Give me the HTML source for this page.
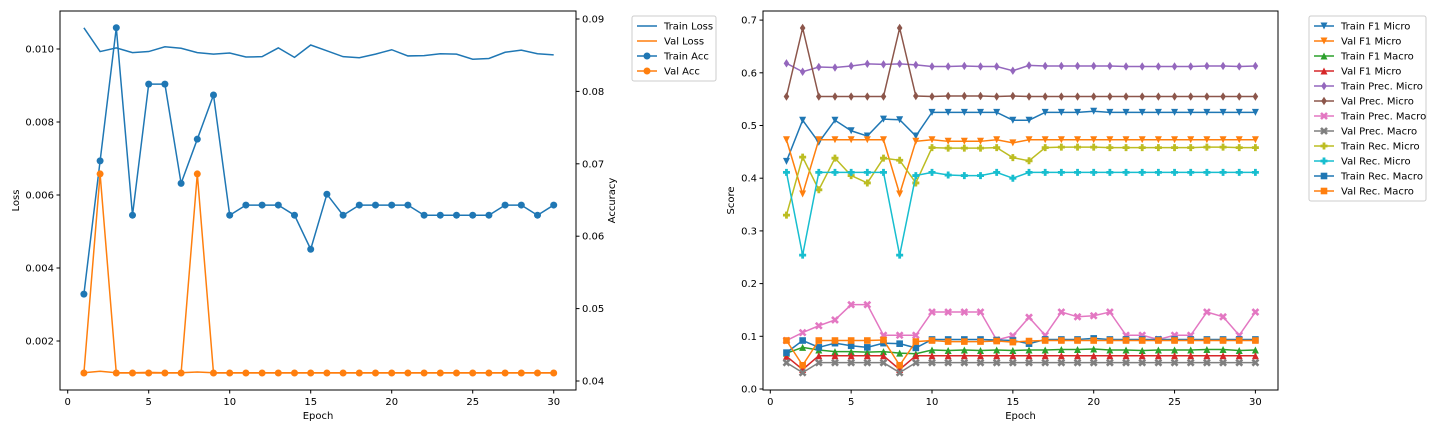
<!DOCTYPE html>
<html><head><meta charset="utf-8"><style>
html,body{margin:0;padding:0;background:#fff;}
svg{display:block;font-family:"DejaVu Sans","Liberation Sans",sans-serif;}
</style></head><body>
<svg id="chart" width="1440" height="432" xmlns="http://www.w3.org/2000/svg"></svg>
<script>
const epochs = Array.from({length:30},(_,i)=>i+1);
const trainLoss=[0.01058,0.00993,0.01003,0.00990,0.00993,0.01006,0.01002,0.00990,0.00986,0.00989,0.00978,0.00979,0.01003,0.00977,0.01011,0.00995,0.00979,0.00976,0.00986,0.00998,0.00981,0.00982,0.00987,0.00986,0.00972,0.00974,0.00991,0.00997,0.00987,0.00984];
const valLoss=[0.00113,0.00117,0.00113,0.00113,0.00114,0.00113,0.00113,0.00115,0.00113,0.00113,0.00113,0.00113,0.00113,0.00113,0.00113,0.00113,0.00113,0.00113,0.00113,0.00113,0.00113,0.00113,0.00113,0.00113,0.00113,0.00113,0.00113,0.00113,0.00113,0.00113];
const trainAcc=[0.0520,0.0704,0.0888,0.0629,0.0810,0.0810,0.0673,0.0734,0.0795,0.0629,0.0643,0.0643,0.0643,0.0629,0.0582,0.0658,0.0629,0.0643,0.0643,0.0643,0.0643,0.0629,0.0629,0.0629,0.0629,0.0629,0.0643,0.0643,0.0629,0.0643];
const valAcc=[0.0411,0.0686,0.0411,0.0411,0.0411,0.0411,0.0411,0.0686,0.0411,0.0411,0.0411,0.0411,0.0411,0.0411,0.0411,0.0411,0.0411,0.0411,0.0411,0.0411,0.0411,0.0411,0.0411,0.0411,0.0411,0.0411,0.0411,0.0411,0.0411,0.0411];
const lossTicks=[0.002,0.004,0.006,0.008,0.010];
const accTicks=[0.04,0.05,0.06,0.07,0.08,0.09];
const epochTicks=[0,5,10,15,20,25,30];
const scoreTicks=[0.0,0.1,0.2,0.3,0.4,0.5,0.6,0.7];
const trainF1Micro=[0.432,0.510,0.468,0.510,0.490,0.480,0.512,0.511,0.480,0.525,0.525,0.525,0.525,0.525,0.510,0.510,0.525,0.525,0.525,0.527,0.525,0.525,0.525,0.525,0.525,0.525,0.525,0.525,0.525,0.525];
const valF1Micro=[0.473,0.370,0.473,0.473,0.473,0.473,0.473,0.370,0.470,0.473,0.470,0.470,0.470,0.473,0.467,0.473,0.473,0.473,0.473,0.473,0.473,0.473,0.473,0.473,0.473,0.473,0.473,0.473,0.473,0.473];
const trainF1Macro=[0.068,0.079,0.074,0.071,0.071,0.070,0.071,0.068,0.067,0.074,0.073,0.074,0.073,0.074,0.073,0.074,0.074,0.075,0.075,0.076,0.074,0.074,0.073,0.074,0.074,0.074,0.075,0.075,0.073,0.074];
const valF1MicroB=[0.062,0.037,0.063,0.063,0.063,0.063,0.063,0.037,0.063,0.063,0.063,0.063,0.063,0.063,0.063,0.063,0.063,0.063,0.063,0.063,0.063,0.063,0.063,0.063,0.063,0.063,0.063,0.063,0.063,0.063];
const trainPrecMicro=[0.618,0.602,0.611,0.610,0.613,0.617,0.616,0.617,0.615,0.612,0.612,0.613,0.612,0.612,0.604,0.614,0.613,0.613,0.613,0.613,0.613,0.612,0.612,0.612,0.612,0.612,0.613,0.613,0.612,0.613];
const valPrecMicro=[0.555,0.685,0.555,0.555,0.555,0.555,0.555,0.685,0.556,0.555,0.556,0.556,0.556,0.555,0.556,0.555,0.555,0.555,0.555,0.555,0.555,0.555,0.555,0.555,0.555,0.555,0.555,0.555,0.555,0.555];
const trainPrecMacro=[0.092,0.107,0.120,0.131,0.160,0.160,0.102,0.102,0.102,0.146,0.146,0.146,0.146,0.093,0.101,0.136,0.102,0.146,0.137,0.139,0.146,0.102,0.102,0.094,0.102,0.102,0.146,0.137,0.102,0.146];
const valPrecMacro=[0.050,0.031,0.050,0.050,0.050,0.050,0.050,0.031,0.050,0.050,0.050,0.050,0.050,0.050,0.050,0.050,0.050,0.050,0.050,0.050,0.050,0.050,0.050,0.050,0.050,0.050,0.050,0.050,0.050,0.050];
const trainRecMicro=[0.330,0.440,0.378,0.438,0.405,0.391,0.438,0.434,0.391,0.458,0.457,0.457,0.457,0.458,0.439,0.433,0.458,0.459,0.459,0.459,0.458,0.458,0.458,0.458,0.458,0.458,0.459,0.459,0.458,0.458];
const valRecMicro=[0.411,0.254,0.411,0.411,0.411,0.411,0.411,0.254,0.405,0.411,0.406,0.405,0.405,0.411,0.400,0.411,0.411,0.411,0.411,0.411,0.411,0.411,0.411,0.411,0.411,0.411,0.411,0.411,0.411,0.411];
const trainRecMacro=[0.069,0.092,0.079,0.087,0.082,0.079,0.087,0.086,0.078,0.094,0.094,0.094,0.094,0.093,0.092,0.086,0.094,0.094,0.094,0.096,0.094,0.094,0.094,0.094,0.094,0.094,0.094,0.094,0.094,0.094];
const valRecMacro=[0.092,0.045,0.092,0.092,0.092,0.092,0.093,0.045,0.090,0.092,0.090,0.090,0.090,0.091,0.089,0.091,0.092,0.092,0.092,0.092,0.092,0.092,0.092,0.092,0.092,0.092,0.092,0.092,0.092,0.092];

const NS="http://www.w3.org/2000/svg";
const svg=document.getElementById('chart');
function el(tag,attrs,parent){const e=document.createElementNS(NS,tag);for(const k in attrs)e.setAttribute(k,attrs[k]);(parent||svg).appendChild(e);return e;}
function txt(s,attrs,parent){const t=el('text',attrs,parent);t.textContent=s;return t;}

// axis functions
const xL=e=>67.7+e*16.2;
const yLoss=v=>341-(v-0.002)*36500;
const yAcc=v=>19+(0.09-v)*7240;
const xR=e=>770.3+e*16.17;
const yS=v=>389-v*527;

function marker(g,type,x,y,c){
  const s=3.5;
  if(type==='o'){const m=el('circle',{cx:x,cy:y,r:3.5,fill:c},g);return m;}
  if(type==='v'){return el('polygon',{points:`${x-s},${y-s} ${x+s},${y-s} ${x},${y+s}`,fill:c},g);}
  if(type==='^'){return el('polygon',{points:`${x-s},${y+s} ${x+s},${y+s} ${x},${y-s}`,fill:c},g);}
  if(type==='d'){return el('polygon',{points:`${x},${y-4.2} ${x+2.8},${y} ${x},${y+4.2} ${x-2.8},${y}`,fill:c},g);}
  if(type==='s'){return el('rect',{x:x-3.3,y:y-3.3,width:6.6,height:6.6,fill:c},g);}
  if(type==='P'){const a=1.4;return el('polygon',{points:`${x-a},${y-s} ${x+a},${y-s} ${x+a},${y-a} ${x+s},${y-a} ${x+s},${y+a} ${x+a},${y+a} ${x+a},${y+s} ${x-a},${y+s} ${x-a},${y+a} ${x-s},${y+a} ${x-s},${y-a} ${x-a},${y-a}`,fill:c},g);}
  if(type==='X'){const p=el('path',{d:`M${x-3},${y-3}L${x+3},${y+3}M${x+3},${y-3}L${x-3},${y+3}`,stroke:c,'stroke-width':2.6},g);return p;}
}
function series(name,xs,ys,xf,yf,color,mk){
  const g=el('g',{});
  
  
  el('polyline',{points:xs.map((e,i)=>xf(e)+','+yf(ys[i])).join(' '),fill:'none',stroke:color,'stroke-width':1.5},g);
  if(mk) xs.forEach((e,i)=>{const m=marker(g,mk,xf(e),yf(ys[i]),color);
    
    });
}
function frame(x0,y0,x1,y1,name){const r=el('rect',{x:x0,y:y0,width:x1-x0,height:y1-y0,fill:'none',stroke:'#000','stroke-width':1});}

// LEFT
const LX0=60,LX1=576,LY0=11,LY1=390;
series('train-loss-line',epochs,trainLoss,xL,yLoss,'#1f77b4',null);
series('val-loss-line',epochs,valLoss,xL,yLoss,'#ff7f0e',null);
series('train-acc-line',epochs,trainAcc,xL,yAcc,'#1f77b4','o');
series('val-acc-line',epochs,valAcc,xL,yAcc,'#ff7f0e','o');
frame(LX0,LY0,LX1,LY1,'left-plot-frame');
epochTicks.forEach(t=>{const x=xL(t);el('line',{x1:x,y1:LY1,x2:x,y2:LY1+3.5,stroke:'#000'});
  const l=txt(t,{x:x,y:LY1+15,'font-size':10,'text-anchor':'middle'});});
lossTicks.forEach(t=>{const y=yLoss(t);el('line',{x1:LX0-3.5,y1:y,x2:LX0,y2:y,stroke:'#000'});
  const l=txt(t.toFixed(3),{x:LX0-6,y:y+3.5,'font-size':10,'text-anchor':'end'});});
accTicks.forEach(t=>{const y=yAcc(t);el('line',{x1:LX1,y1:y,x2:LX1+3.5,y2:y,stroke:'#000'});
  const l=txt(t.toFixed(2),{x:LX1+6,y:y+3.5,'font-size':10});});
txt('Epoch',{x:(LX0+LX1)/2,y:419,'font-size':10,'text-anchor':'middle',});
txt('Loss',{x:0,y:0,'font-size':10,'text-anchor':'middle',transform:`translate(19,${(LY0+LY1)/2}) rotate(-90)`,});
txt('Accuracy',{x:0,y:0,'font-size':10,'text-anchor':'middle',transform:`translate(615,${(LY0+LY1)/2}) rotate(-90)`,});

// RIGHT
const RX0=763,RX1=1278,RY0=11,RY1=390;
const rs=[
 ['train-f1-micro','Train F1 Micro',trainF1Micro,'#1f77b4','v'],
 ['val-f1-micro','Val F1 Micro',valF1Micro,'#ff7f0e','v'],
 ['train-f1-macro','Train F1 Macro',trainF1Macro,'#2ca02c','^'],
 ['val-f1-micro-red','Val F1 Micro',valF1MicroB,'#d62728','^'],
 ['train-prec-micro','Train Prec. Micro',trainPrecMicro,'#9467bd','d'],
 ['val-prec-micro','Val Prec. Micro',valPrecMicro,'#8c564b','d'],
 ['train-prec-macro','Train Prec. Macro',trainPrecMacro,'#e377c2','X'],
 ['val-prec-macro','Val Prec. Macro',valPrecMacro,'#7f7f7f','X'],
 ['train-rec-micro','Train Rec. Micro',trainRecMicro,'#bcbd22','P'],
 ['val-rec-micro','Val Rec. Micro',valRecMicro,'#17becf','P'],
 ['train-rec-macro','Train Rec. Macro',trainRecMacro,'#1f77b4','s'],
 ['val-rec-macro','Val Rec. Macro',valRecMacro,'#ff7f0e','s']];
rs.forEach(r=>series(r[0]+'-line',epochs,r[2],xR,yS,r[3],r[4]));
frame(RX0,RY0,RX1,RY1,'right-plot-frame');
epochTicks.forEach(t=>{const x=xR(t);el('line',{x1:x,y1:RY1,x2:x,y2:RY1+3.5,stroke:'#000'});
  const l=txt(t,{x:x,y:RY1+15,'font-size':10,'text-anchor':'middle'});});
scoreTicks.forEach(t=>{const y=yS(t);el('line',{x1:RX0-3.5,y1:y,x2:RX0,y2:y,stroke:'#000'});
  const l=txt(t.toFixed(1),{x:RX0-6,y:y+3.5,'font-size':10,'text-anchor':'end'});});
txt('Epoch',{x:(RX0+RX1)/2,y:419,'font-size':10,'text-anchor':'middle',});
txt('Score',{x:0,y:0,'font-size':10,'text-anchor':'middle',transform:`translate(734,${(RY0+RY1)/2}) rotate(-90)`,});

// legends
function legend(x,y,w,items,name){
  const g=el('g',{});
  el('rect',{x:x,y:y,width:w,height:items.length*15+5,fill:'#fff',stroke:'#ccc',rx:2},g);
  items.forEach((it,i)=>{const cy=y+10+i*15;
    const e=el('g',{},g);
    el('line',{x1:x+5,y1:cy,x2:x+25,y2:cy,stroke:it[1],'stroke-width':1.5},e);
    if(it[2])marker(e,it[2],x+15,cy,it[1]);
    txt(it[0],{x:x+32,y:cy+3.5,'font-size':10},e);});
}
legend(632,16,84,[['Train Loss','#1f77b4',null],['Val Loss','#ff7f0e',null],['Train Acc','#1f77b4','o'],['Val Acc','#ff7f0e','o']],'left-legend');
legend(1309,16,117,rs.map(r=>[r[1],r[3],r[4]]),'right-legend');
</script>
</body></html>
